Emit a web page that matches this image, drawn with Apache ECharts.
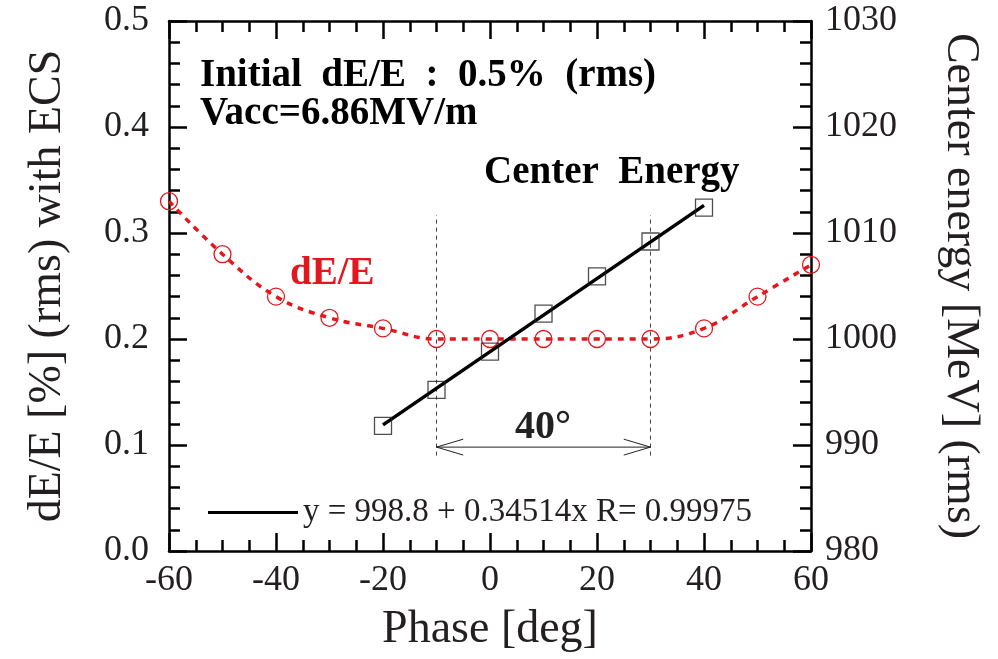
<!DOCTYPE html>
<html>
<head>
<meta charset="utf-8">
<script src="https://cdn.jsdelivr.net/npm/echarts@6/dist/echarts.min.js"></script>
<style>html,body{margin:0;padding:0;background:#fff}#c{width:998px;height:659px}</style>
</head>
<body>
<div id="c"></div>
<script>
// ---- data ----
const phase = [-60, -50, -40, -30, -20, -10, 0, 10, 20, 30, 40, 50, 60];
const dEE = [0.33, 0.28, 0.24, 0.22, 0.21, 0.20, 0.20, 0.20, 0.20, 0.20, 0.21, 0.24, 0.27];
const cePhase = [-20, -10, 0, 10, 20, 30, 40];
const centerEnergy = [991.8, 995.2, 998.8, 1002.4, 1005.9, 1009.2, 1012.4];
const fitIntercept = 998.8;
const fitSlope = 0.34514;
const fitRange = [-20, 40];
const fitLabel = 'y = 998.8 + 0.34514x R= 0.99975';
const guidePhases = [-10, 30];
const guideSpan = [0.09, 0.317];
const arrowLevel = 0.098;

const FONT = '"Liberation Serif", "Times New Roman", serif';
const RED = '#e3181f';
const INK = '#231f20';

const chart = echarts.init(document.getElementById('c'), null, {renderer: 'canvas'});

const fitData = fitRange.map(x => [x, fitIntercept + fitSlope * x]);
const guideSeries = guidePhases.map(p => ({
  type: 'line', xAxisIndex: 0, yAxisIndex: 0, silent: true, symbol: 'none',
  data: [[p, guideSpan[0]], [p, guideSpan[1]]],
  lineStyle: {color: '#444', width: 1, type: [4, 4]}, z: 1
}));
const arrowHeadDx = 5, arrowHeadDy = 0.0075;
const arrowSeries = [
  {data: [[guidePhases[0], arrowLevel], [guidePhases[1], arrowLevel]]},
  {data: [[guidePhases[0] + arrowHeadDx, arrowLevel + arrowHeadDy], [guidePhases[0], arrowLevel], [guidePhases[0] + arrowHeadDx, arrowLevel - arrowHeadDy]]},
  {data: [[guidePhases[1] - arrowHeadDx, arrowLevel + arrowHeadDy], [guidePhases[1], arrowLevel], [guidePhases[1] - arrowHeadDx, arrowLevel - arrowHeadDy]]}
].map(s => Object.assign({
  type: 'line', xAxisIndex: 0, yAxisIndex: 0, silent: true, symbol: 'none',
  lineStyle: {color: '#222', width: 1}, z: 1
}, s));

const tickCommon = {inside: true, length: 18, lineStyle: {color: '#000', width: 2.5}};
const minorCommon = {show: true, length: 11, lineStyle: {color: '#000', width: 2.5}};
const lineCommon = {show: true, onZero: false, lineStyle: {color: '#000', width: 2.5}};

chart.setOption({
  animation: false,
  backgroundColor: '#fff',
  grid: {left: 169, right: 187, top: 21, bottom: 108, containLabel: false},
  legend: {
    show: true, left: 208, top: 496, padding: 0,
    data: [{name: fitLabel, icon: 'rect'}],
    itemWidth: 90, itemHeight: 3, itemGap: 10,
    textStyle: {fontFamily: FONT, fontSize: 33, color: INK}
  },
  xAxis: [
    {
      type: 'value', min: -60, max: 60, interval: 20, position: 'bottom',
      axisLine: lineCommon, axisTick: tickCommon,
      minorTick: Object.assign({splitNumber: 4}, minorCommon),
      splitLine: {show: false},
      axisLabel: {fontFamily: FONT, fontSize: 36, color: INK, margin: 12, formatter: v => String(v)},
      name: 'Phase [deg]', nameLocation: 'middle', nameGap: 56,
      nameTextStyle: {fontFamily: FONT, fontSize: 46, color: INK}
    },
    {
      type: 'value', min: -60, max: 60, interval: 20, position: 'top',
      axisLine: lineCommon, axisTick: tickCommon,
      minorTick: Object.assign({splitNumber: 4}, minorCommon),
      splitLine: {show: false}, axisLabel: {show: false}
    }
  ],
  yAxis: [
    {
      type: 'value', min: 0, max: 0.5, interval: 0.1, position: 'left',
      axisLine: lineCommon, axisTick: tickCommon,
      minorTick: Object.assign({splitNumber: 5}, minorCommon),
      splitLine: {show: false},
      axisLabel: {fontFamily: FONT, fontSize: 36, color: INK, margin: 20, formatter: v => v.toFixed(1)},
      name: 'dE/E [%] (rms) with ECS', nameLocation: 'middle', nameGap: 98, nameRotate: 90,
      nameTextStyle: {fontFamily: FONT, fontSize: 46, color: INK}
    },
    {
      type: 'value', min: 980, max: 1030, interval: 10, position: 'right',
      axisLine: lineCommon, axisTick: tickCommon,
      minorTick: Object.assign({splitNumber: 5}, minorCommon),
      splitLine: {show: false},
      axisLabel: {fontFamily: FONT, fontSize: 36, color: INK, margin: 14, formatter: v => String(v)},
      name: 'Center energy [MeV] (rms)', nameLocation: 'middle', nameGap: 126, nameRotate: -90,
      nameTextStyle: {fontFamily: FONT, fontSize: 46, color: INK}
    }
  ],
  series: [
    ...guideSeries,
    ...arrowSeries,
    {
      name: 'dE/E', type: 'line', xAxisIndex: 0, yAxisIndex: 0,
      data: phase.map((p, i) => [p, dEE[i]]),
      smooth: 0.4, symbol: 'circle', symbolSize: 17, showSymbol: true,
      lineStyle: {color: RED, width: 3.5, type: [6, 6]},
      itemStyle: {color: 'rgba(0,0,0,0)', borderColor: RED, borderWidth: 1.3},
      z: 3
    },
    {
      name: fitLabel, type: 'line', xAxisIndex: 0, yAxisIndex: 1,
      data: fitData, symbol: 'none', showSymbol: false,
      lineStyle: {color: '#000', width: 3.5}, itemStyle: {color: '#000'},
      z: 4
    },
    {
      name: 'Center Energy', type: 'scatter', xAxisIndex: 0, yAxisIndex: 1,
      data: cePhase.map((p, i) => [p, centerEnergy[i]]),
      symbol: 'rect', symbolSize: 17,
      itemStyle: {color: 'rgba(0,0,0,0)', borderColor: '#222', borderWidth: 1.3},
      z: 5
    }
  ],
  graphic: [
    {type: 'text', left: 200, top: 56, style: {text: 'Initial  dE/E  :  0.5%  (rms)', font: 'bold 39px ' + FONT, fill: '#000'}},
    {type: 'text', left: 200, top: 94, style: {text: 'Vacc=6.86MV/m', font: 'bold 39px ' + FONT, fill: '#000'}},
    {type: 'text', left: 484, top: 153, style: {text: 'Center  Energy', font: 'bold 39px ' + FONT, fill: '#000'}},
    {type: 'text', left: 290, top: 254, style: {text: 'dE/E', font: 'bold 39px ' + FONT, fill: RED}},
    {type: 'text', left: 515, top: 408, style: {text: '40°', font: 'bold 40px ' + FONT, fill: '#222'}}
  ]
});
</script>
</body>
</html>
